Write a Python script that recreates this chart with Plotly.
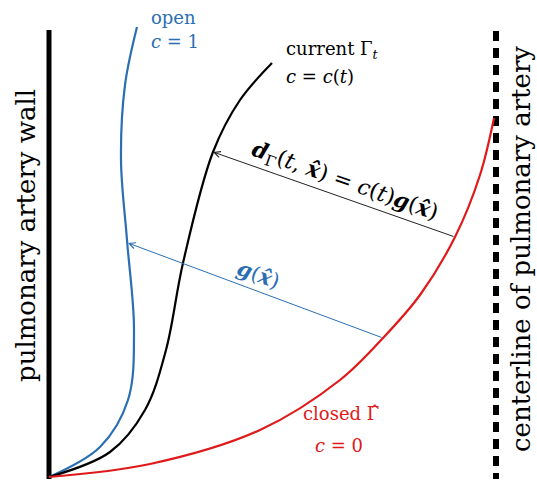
import plotly.graph_objects as go

# Diagram geometry (picture coordinates, y downward)
wall_x = [49, 49]
wall_y = [30, 479]
center_x = [496, 496]
center_y = [31, 479]

open_x = [49, 100, 128, 134, 127, 121, 125, 137]
open_y = [477, 447, 400, 330, 240, 160, 85, 27]

current_x = [49, 110, 145, 166, 183, 213, 240, 272]
current_y = [477, 452, 410, 350, 263, 152, 100, 63]

closed_x = [49, 150, 260, 340, 383, 420, 455, 480, 494]
closed_y = [477, 464, 430, 380, 338, 295, 237, 175, 118]

d_arrow = dict(tip=(213, 152), tail=(455, 237))
g_arrow = dict(tip=(128, 243), tail=(383, 338))

BLUE = "#2a6fb4"
RED = "#e01a1a"
FONT = "DejaVu Serif"

fig = go.Figure()
fig.add_trace(go.Scatter(x=wall_x, y=wall_y, mode="lines",
                         line=dict(color="black", width=5)))
fig.add_trace(go.Scatter(x=center_x, y=center_y, mode="lines",
                         line=dict(color="black", width=6, dash="10px,7px")))
for xs, ys, col in [(open_x, open_y, BLUE), (current_x, current_y, "black"),
                    (closed_x, closed_y, RED)]:
    fig.add_trace(go.Scatter(x=xs, y=ys, mode="lines",
                             line=dict(color=col, width=2.2, shape="spline", smoothing=1.0)))

# arrows
for arr, col in [(d_arrow, "#222"), (g_arrow, BLUE)]:
    fig.add_annotation(x=arr["tip"][0], y=arr["tip"][1], ax=arr["tail"][0], ay=arr["tail"][1],
                       xref="x", yref="y", axref="x", ayref="y",
                       showarrow=True, arrowhead=5, arrowsize=1.2, arrowwidth=1,
                       arrowcolor=col, text="")

fig.add_annotation(x=345, y=182, xref="x", yref="y", showarrow=False, textangle=19.4,
                   text="<b><i>d</i></b><sub>Γ</sub>(<i>t</i>, <b><i>x̂</i></b>) = <i>c</i>(<i>t</i>)<b><i>g</i></b>(<b><i>x̂</i></b>)",
                   font=dict(family=FONT, size=22, color="black"))
fig.add_annotation(x=259, y=274, xref="x", yref="y", showarrow=False, textangle=20.4,
                   text="<b><i>g</i></b>(<b><i>x̂</i></b>)",
                   font=dict(family=FONT, size=21, color=BLUE))

fig.add_annotation(x=149, y=17, xref="x", yref="y", showarrow=False, xanchor="left",
                   text="open", font=dict(family=FONT, size=18, color=BLUE))
fig.add_annotation(x=149, y=41, xref="x", yref="y", showarrow=False, xanchor="left",
                   text="<i>c</i> = 1", font=dict(family=FONT, size=18, color=BLUE))
fig.add_annotation(x=284, y=50, xref="x", yref="y", showarrow=False, xanchor="left",
                   text="current Γ<sub><i>t</i></sub>", font=dict(family=FONT, size=18, color="black"))
fig.add_annotation(x=284, y=76, xref="x", yref="y", showarrow=False, xanchor="left",
                   text="<i>c</i> = <i>c</i>(<i>t</i>)", font=dict(family=FONT, size=18, color="black"))
fig.add_annotation(x=341, y=413, xref="x", yref="y", showarrow=False,
                   text="closed Γ̂", font=dict(family=FONT, size=18, color=RED))
fig.add_annotation(x=339, y=445, xref="x", yref="y", showarrow=False,
                   text="<i>c</i> = 0", font=dict(family=FONT, size=18, color=RED))

fig.add_annotation(x=26, y=236, xref="x", yref="y", showarrow=False, textangle=-90,
                   text="pulmonary artery wall", font=dict(family=FONT, size=26, color="black"))
fig.add_annotation(x=521, y=249, xref="x", yref="y", showarrow=False, textangle=-90,
                   text="centerline of pulmonary artery", font=dict(family=FONT, size=26, color="black"))

fig.update_layout(width=537, height=481, margin=dict(l=0, r=0, t=0, b=0),
                  plot_bgcolor="white", paper_bgcolor="white", showlegend=False,
                  xaxis=dict(range=[0, 537], visible=False, fixedrange=True),
                  yaxis=dict(range=[481, 0], visible=False, fixedrange=True))
fig.write_html("out.html", post_script="document.body.style.margin='0';",
               config={"displayModeBar": False})
